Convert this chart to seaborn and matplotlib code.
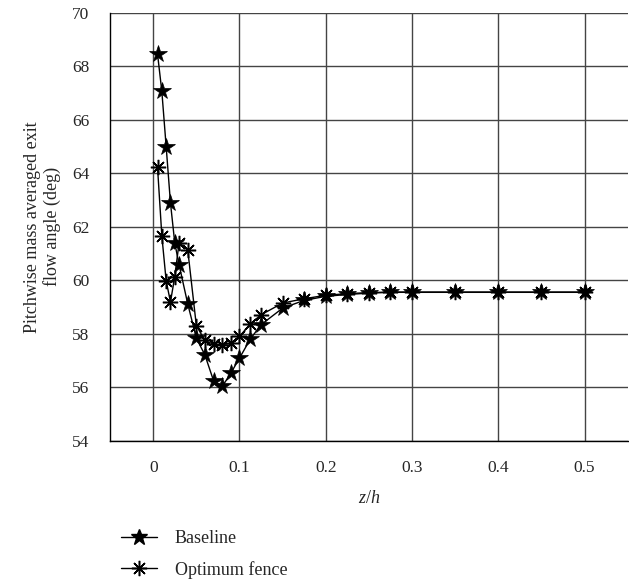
import matplotlib
matplotlib.use("Agg")
import matplotlib.pyplot as plt
import seaborn as sns
import pandas as pd
from matplotlib.ticker import MultipleLocator

# z/h positions (spanwise) and exit flow angle values
z_h = [0.005, 0.01, 0.015, 0.02, 0.025, 0.03, 0.04, 0.05, 0.06, 0.07, 0.08,
       0.09, 0.1, 0.1125, 0.125, 0.15, 0.175, 0.2, 0.225, 0.25, 0.275, 0.3,
       0.35, 0.4, 0.45, 0.5]
baseline = [68.46, 67.06, 65.0, 62.89, 61.39, 60.58, 59.12, 57.84, 57.2, 56.24,
            56.03, 56.53, 57.09, 57.8, 58.34, 58.96, 59.25, 59.4, 59.47, 59.52,
            59.55, 59.55, 59.55, 59.55, 59.55, 59.55]
optimum = [64.22, 61.66, 59.98, 59.19, 60.14, 61.41, 61.14, 58.3, 57.75, 57.61,
           57.59, 57.65, 57.9, 58.37, 58.71, 59.15, 59.31, 59.44, 59.5, 59.54,
           59.56, 59.56, 59.56, 59.56, 59.56, 59.56]

series_names = ["Baseline", "Optimum fence"]
x_ticks = [0, 0.1, 0.2, 0.3, 0.4, 0.5]
x_tick_labels = ["0", "0.1", "0.2", "0.3", "0.4", "0.5"]

df_base = pd.DataFrame({"z_h": z_h, "angle": baseline})
df_opt = pd.DataFrame({"z_h": z_h, "angle": optimum})

sns.set_style("white")
plt.rcParams["font.family"] = ["Liberation Serif", "DejaVu Serif"]
plt.rcParams["mathtext.fontset"] = "custom"
plt.rcParams["mathtext.it"] = "Liberation Serif:italic"

fig = plt.figure(figsize=(6.29, 5.8), dpi=100)
ax = fig.add_axes([0.175, 0.24, 0.823, 0.738])

# star marker for baseline, 8-arm asterisk for optimum fence
sns.lineplot(data=df_base, x="z_h", y="angle", color="black", marker="*",
             markersize=13, markeredgecolor="black", markeredgewidth=0.5,
             linewidth=1.0, ax=ax, sort=False, zorder=4)
sns.lineplot(data=df_opt, x="z_h", y="angle", color="black", marker=(8, 2, 0),
             markersize=11, markeredgecolor="black", markeredgewidth=1.1,
             linewidth=1.0, ax=ax, sort=False, zorder=3)

ax.set_xlim(-0.05, 0.55)
ax.set_ylim(54, 70)
ax.set_xticks(x_ticks)
ax.set_xticklabels(x_tick_labels)
ax.xaxis.set_minor_locator(MultipleLocator(0.05))
ax.yaxis.set_major_locator(MultipleLocator(2))
ax.yaxis.set_minor_locator(MultipleLocator(1))

ax.grid(True, which="major", color="#444444", linewidth=1.0)
for s in ["top", "right"]:
    ax.spines[s].set_visible(False)
for s in ["left", "bottom"]:
    ax.spines[s].set_color("black")
    ax.spines[s].set_linewidth(1.0)

ax.tick_params(which="major", direction="out", length=7, width=1, labelsize=12.5,
               color="black", pad=8)
ax.tick_params(axis="y", which="minor", direction="inout", length=6, width=1,
               color="black")
ax.tick_params(axis="x", which="major", direction="out", length=6, pad=8)
ax.tick_params(axis="x", which="minor", direction="out", length=3, width=1,
               color="black")

ax.set_xlabel("$z$/$h$", fontsize=13, labelpad=10)
ax.set_ylabel("Pitchwise mass averaged exit\nflow angle (deg)", fontsize=13,
              labelpad=8, linespacing=1.1)

handles = [plt.Line2D([], [], color="black", lw=1.0, marker="*", markersize=12),
           plt.Line2D([], [], color="black", lw=1.0, marker=(8, 2, 0),
                      markersize=11, markeredgewidth=1.1)]
fig.legend(handles, series_names, loc="upper left", bbox_to_anchor=(0.167, 0.114),
           frameon=False, fontsize=13, handlelength=2.0, handletextpad=0.95,
           labelspacing=0.75)

fig.savefig("out.png", dpi=100)
